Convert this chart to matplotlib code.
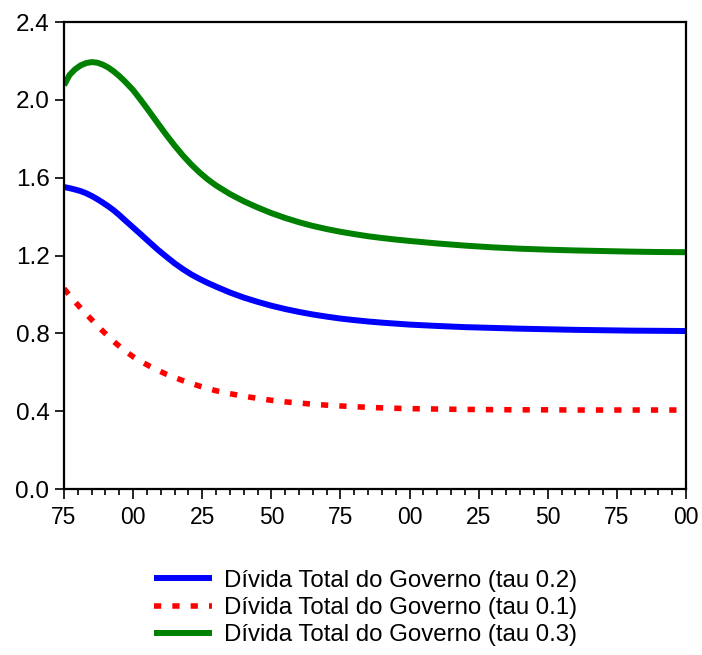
import matplotlib
matplotlib.use("Agg")
import matplotlib.pyplot as plt
from matplotlib.ticker import MultipleLocator, FixedLocator

# Sampled path of total government debt for three tax rates
years = [1975, 1977, 1979, 1981, 1983, 1985, 1987, 1989, 1991, 1993, 1995, 1997,
         2000, 2003, 2006, 2009, 2012, 2015, 2018, 2021, 2024, 2027, 2030,
         2035, 2040, 2045, 2050, 2055, 2060, 2065, 2070, 2075, 2080, 2085,
         2090, 2095, 2100,
         2110, 2120, 2130, 2140, 2150, 2160, 2170, 2180, 2190, 2200]

divida_tau02 = [1.552, 1.546, 1.539, 1.531, 1.520, 1.506, 1.490, 1.472, 1.453,
                1.432, 1.408, 1.382,
                1.344, 1.306, 1.267, 1.229, 1.194, 1.160, 1.130, 1.103, 1.080,
                1.059, 1.040,
                1.010, 0.984, 0.962, 0.942, 0.925, 0.910, 0.897, 0.886, 0.876,
                0.868, 0.861, 0.855, 0.850, 0.845,
                0.838, 0.832, 0.828, 0.824, 0.821, 0.818, 0.816, 0.814, 0.813,
                0.812]

divida_tau01 = [1.030, 0.995, 0.962, 0.930, 0.900, 0.870, 0.840, 0.812, 0.785,
                0.758, 0.734, 0.711,
                0.680, 0.654, 0.631, 0.610, 0.590, 0.573, 0.557, 0.543, 0.529,
                0.517, 0.505,
                0.490, 0.477, 0.466, 0.456, 0.448, 0.442, 0.436, 0.431, 0.427,
                0.423, 0.420, 0.417, 0.415, 0.413,
                0.411, 0.409, 0.408, 0.407, 0.407, 0.406, 0.406, 0.406, 0.406,
                0.406]

divida_tau03 = [2.075, 2.128, 2.157, 2.177, 2.189, 2.194, 2.191, 2.181, 2.166,
                2.146, 2.122, 2.095,
                2.050, 1.995, 1.937, 1.878, 1.820, 1.765, 1.714, 1.668, 1.627,
                1.591, 1.560,
                1.516, 1.479, 1.447, 1.418, 1.393, 1.371, 1.352, 1.336, 1.322,
                1.310, 1.299, 1.290, 1.282, 1.275,
                1.262, 1.251, 1.242, 1.235, 1.230, 1.226, 1.223, 1.220, 1.218,
                1.217]

series_labels = ["Dívida Total do Governo (tau 0.2)",
                 "Dívida Total do Governo (tau 0.1)",
                 "Dívida Total do Governo (tau 0.3)"]

y_ticks = [0.0, 0.4, 0.8, 1.2, 1.6, 2.0, 2.4]
x_ticks = [1975, 2000, 2025, 2050, 2075, 2100, 2125, 2150, 2175, 2200]
x_ticklabels = ["75", "00", "25", "50", "75", "00", "25", "50", "75", "00"]

plt.rcParams["font.family"] = ["Liberation Sans", "DejaVu Sans"]

fig = plt.figure(figsize=(7.02, 6.55), dpi=100)
ax = fig.add_axes([0.0912, 0.2534, 0.886, 0.7130])

ax.plot(years, divida_tau02, color="#0000ff", lw=4.3, solid_capstyle="butt",
        solid_joinstyle="round", label=series_labels[0])
ax.plot(years, divida_tau01, color="#ff0000", lw=4.0, dashes=(1.3, 2.0),
        dash_capstyle="butt", label=series_labels[1])
ax.plot(years, divida_tau03, color="#008000", lw=4.3, solid_capstyle="butt",
        solid_joinstyle="round", label=series_labels[2])

ax.set_xlim(1975, 2200)
ax.set_ylim(0.0, 2.4)

ax.set_yticks(y_ticks)
ax.set_yticklabels([f"{v:.1f}" for v in y_ticks])
ax.xaxis.set_major_locator(FixedLocator(x_ticks))
ax.set_xticklabels(x_ticklabels)
ax.xaxis.set_minor_locator(MultipleLocator(5))

for s in ax.spines.values():
    s.set_linewidth(1.6)

ax.tick_params(axis="y", which="major", direction="out", length=6.5, width=1.2,
               pad=4, labelsize=17.5, right=False)
ax.tick_params(axis="x", which="major", direction="out", length=7.5, width=1.2,
               pad=5, labelsize=16.5, top=False)
ax.tick_params(axis="x", which="minor", direction="out", length=4.5, width=1.2,
               top=False)

handles, labels = ax.get_legend_handles_labels()
fig.legend(handles, labels, loc="center", bbox_to_anchor=(0.521, 0.0715),
           frameon=False, fontsize=17.3, handlelength=2.4, handletextpad=0.5,
           labelspacing=0.22, borderpad=0.0)

fig.savefig("out.png", dpi=100, facecolor="white")
